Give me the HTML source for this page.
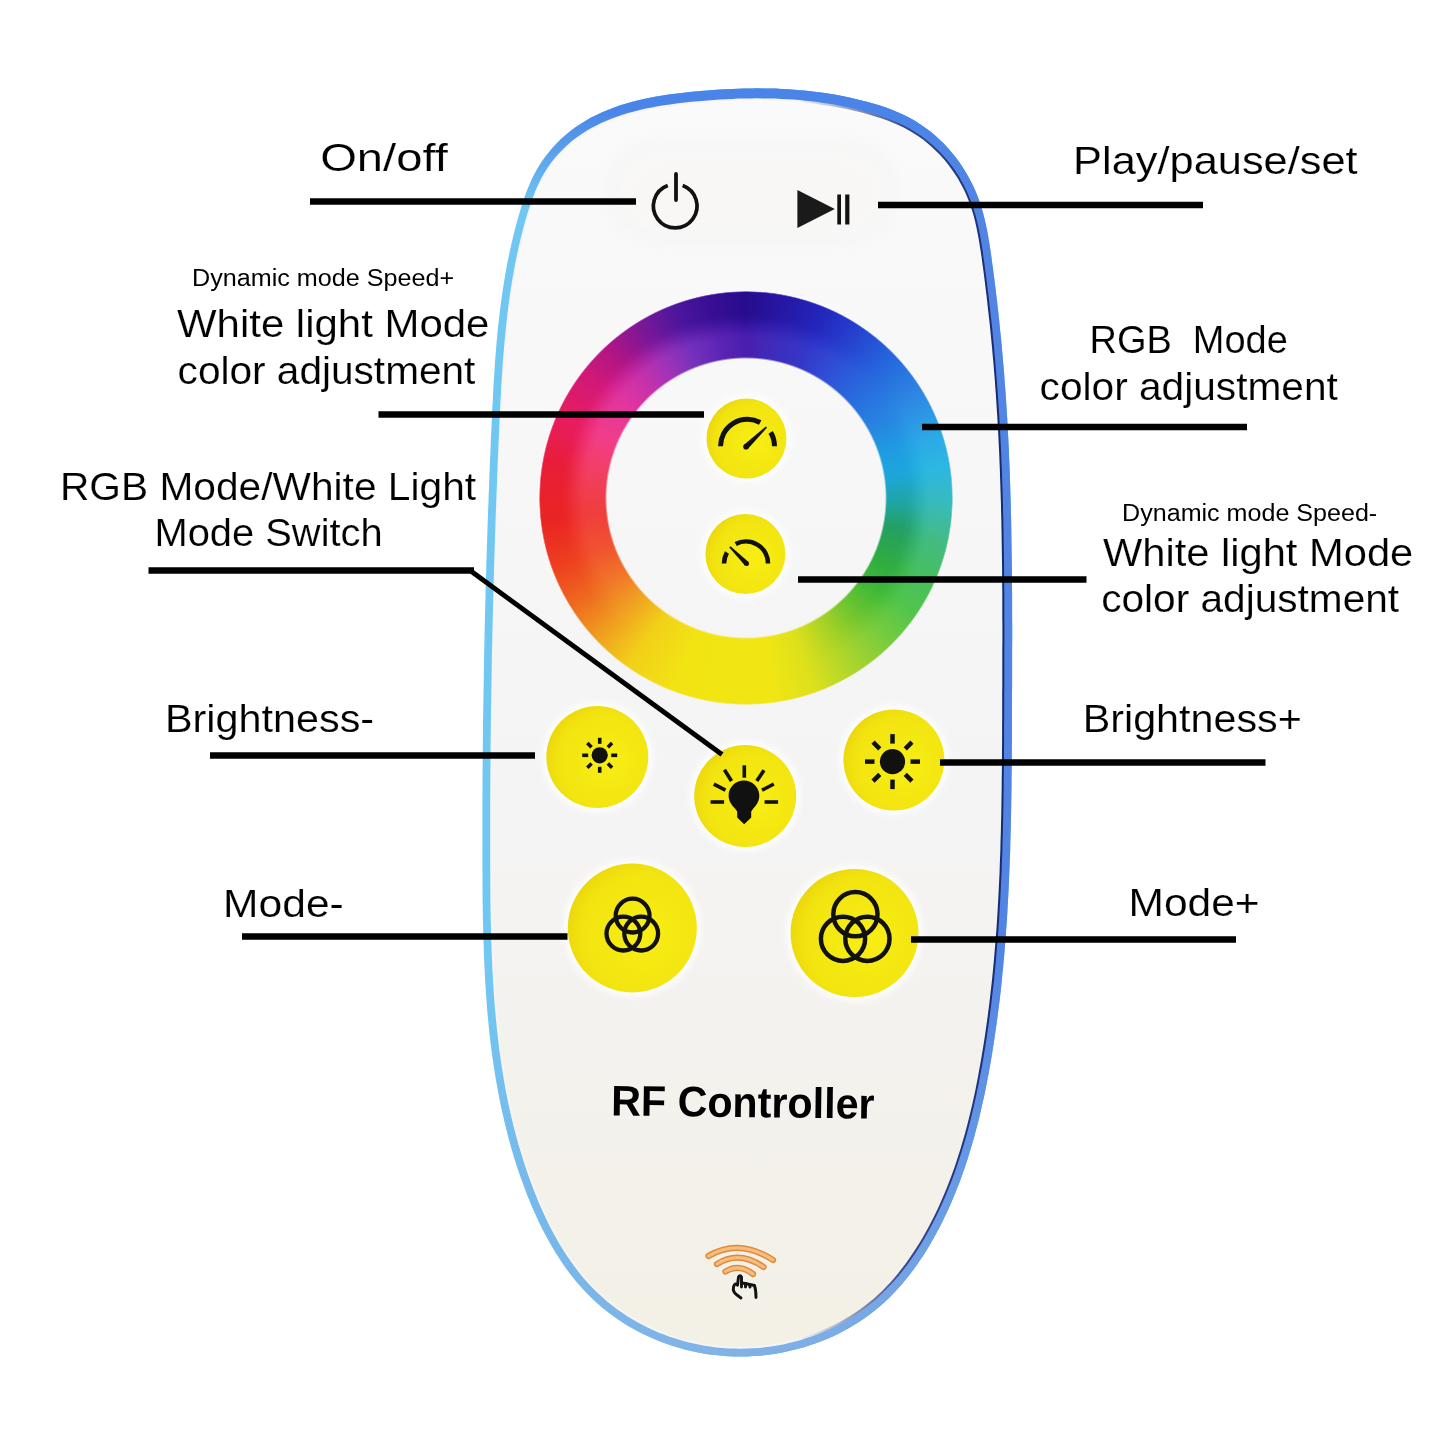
<!DOCTYPE html>
<html><head><meta charset="utf-8">
<style>
html,body{margin:0;padding:0;background:#fff;}
body{width:1445px;height:1445px;position:relative;overflow:hidden;font-family:"Liberation Sans",sans-serif;}
svg{position:absolute;left:0;top:0;}
.ring{position:absolute;left:539px;top:291px;width:414px;height:414px;border-radius:50%;}
#ring{background:conic-gradient(from 0deg,#3612a2 0deg,#2a2cc4 22deg,#2a44d2 32deg,#2666dc 45deg,#2a82e2 58deg,#24a4e4 72deg,#22b0e0 81deg,#28b2b0 92deg,#30b074 102deg,#3ab84c 115deg,#48c040 125deg,#78ca34 137deg,#aad428 148deg,#dce01c 160deg,#f0e614 172deg,#f2e414 200deg,#f2d018 215deg,#f0a020 227deg,#f07222 238deg,#f04a26 250deg,#ee302e 264deg,#ee2c50 280deg,#ee2a7a 294deg,#dc2490 308deg,#c0209c 318deg,#8c22ae 330deg,#6020b0 340deg,#4a16a8 350deg,#3612a2 360deg);
-webkit-mask:radial-gradient(circle at 50% 50%,transparent 139px,#000 141px,#000 205.5px,transparent 207.5px);
mask:radial-gradient(circle at 50% 50%,transparent 139px,#000 141px,#000 205.5px,transparent 207.5px);}
#ringshade{mix-blend-mode:soft-light;background:conic-gradient(from 0deg,rgba(0,0,0,0.35) 0deg,rgba(0,0,0,0) 50deg,rgba(255,255,255,0.3) 100deg,rgba(255,255,255,0) 160deg,rgba(0,0,0,0) 220deg,rgba(0,0,0,0.4) 280deg,rgba(0,0,0,0.35) 360deg);
-webkit-mask:radial-gradient(circle at 50% 50%,transparent 165px,#000 185px,#000 205.5px,transparent 207.5px);
mask:radial-gradient(circle at 50% 50%,transparent 165px,#000 185px,#000 205.5px,transparent 207.5px);}
#ringshade2{mix-blend-mode:soft-light;background:conic-gradient(from 0deg,rgba(255,255,255,0.3) 0deg,rgba(255,255,255,0) 50deg,rgba(0,0,0,0.3) 100deg,rgba(0,0,0,0) 160deg,rgba(0,0,0,0) 220deg,rgba(255,255,255,0.3) 280deg,rgba(255,255,255,0.3) 360deg);
-webkit-mask:radial-gradient(circle at 50% 50%,transparent 139px,#000 141px,#000 160px,transparent 180px);
mask:radial-gradient(circle at 50% 50%,transparent 139px,#000 141px,#000 160px,transparent 180px);}
</style></head><body>
<svg width="1445" height="1445" viewBox="0 0 1445 1445">
<defs>
<linearGradient id="bodyfill" x1="0" y1="0" x2="0" y2="1">
<stop offset="0" stop-color="#fafafa"/><stop offset="0.3" stop-color="#f8f7f8"/><stop offset="0.55" stop-color="#f5f4f5"/><stop offset="0.75" stop-color="#f4f2ee"/><stop offset="1" stop-color="#f3f0e6"/>
</linearGradient>
<linearGradient id="bandR" gradientUnits="userSpaceOnUse" x1="700" y1="0" x2="900" y2="0">
<stop offset="0" stop-color="#5284e4" stop-opacity="0"/><stop offset="1" stop-color="#5284e4" stop-opacity="1"/>
</linearGradient>
<linearGradient id="bandT" gradientUnits="userSpaceOnUse" x1="0" y1="110" x2="0" y2="210">
<stop offset="0" stop-color="#4a84e8" stop-opacity="1"/><stop offset="1" stop-color="#4a84e8" stop-opacity="0"/>
</linearGradient>
<linearGradient id="bandB" gradientUnits="userSpaceOnUse" x1="0" y1="950" x2="0" y2="1350">
<stop offset="0" stop-color="#7aaee6" stop-opacity="0"/><stop offset="0.6" stop-color="#7aaee6" stop-opacity="0.55"/><stop offset="1" stop-color="#84b0e4" stop-opacity="0.85"/>
</linearGradient>
<linearGradient id="navy" x1="0" y1="0" x2="1" y2="0">
<stop offset="0" stop-color="#f6f5f4"/><stop offset="0.6" stop-color="#f6f5f4"/><stop offset="0.8" stop-color="#3a4a90"/><stop offset="1" stop-color="#142a70"/>
</linearGradient>
<radialGradient id="btn" cx="0.55" cy="0.6" r="0.6">
<stop offset="0" stop-color="#f6ee1c"/><stop offset="0.8" stop-color="#f0e010"/><stop offset="1" stop-color="#ecd80e"/>
</radialGradient>
</defs>
<path d="M700.4,91.0 L706.7,90.4 L713.1,90.0 L719.4,89.6 L725.6,89.2 L731.9,88.9 L738.2,88.7 L744.4,88.5 L750.6,88.4 L756.9,88.3 L763.1,88.4 L769.3,88.5 L775.5,88.6 L781.7,88.9 L787.8,89.2 L794.0,89.7 L800.2,90.2 L806.3,90.8 L812.5,91.4 L818.6,92.2 L824.8,93.1 L830.9,94.0 L837.0,95.1 L843.2,96.3 L849.3,97.5 L855.4,98.9 L861.5,100.4 L867.6,102.0 L873.7,103.7 L879.8,105.6 L885.8,107.6 L891.7,109.8 L897.5,112.2 L903.3,114.7 L908.8,117.6 L914.3,120.6 L919.6,123.9 L924.7,127.4 L929.7,131.1 L934.5,135.0 L939.1,139.2 L943.6,143.5 L947.8,148.0 L951.9,152.7 L955.8,157.5 L959.5,162.6 L963.0,167.7 L966.2,173.0 L969.3,178.4 L972.2,183.9 L974.8,189.6 L977.2,195.3 L979.4,201.2 L981.3,207.1 L983.1,213.0 L984.6,219.1 L986.0,225.2 L987.3,231.3 L988.4,237.5 L989.4,243.7 L990.4,250.0 L991.3,256.2 L992.1,262.4 L993.0,268.7 L993.8,274.9 L994.6,281.2 L995.4,287.4 L996.1,293.6 L996.9,299.8 L997.6,306.1 L998.3,312.3 L999.0,318.5 L999.6,324.7 L1000.2,330.9 L1000.9,337.2 L1001.5,343.4 L1002.0,349.6 L1002.6,355.8 L1003.1,362.0 L1003.7,368.2 L1004.2,374.4 L1004.6,380.7 L1005.1,386.9 L1005.6,393.1 L1006.0,399.3 L1006.4,405.5 L1006.8,411.8 L1007.2,418.0 L1007.5,424.2 L1007.8,430.4 L1008.2,436.7 L1008.5,442.9 L1008.8,449.1 L1009.0,455.4 L1009.3,461.6 L1009.6,467.8 L1009.8,474.1 L1010.0,480.3 L1010.2,486.5 L1010.4,492.8 L1010.6,499.0 L1010.8,505.3 L1010.9,511.5 L1011.1,517.7 L1011.2,524.0 L1011.3,530.2 L1011.4,536.5 L1011.5,542.7 L1011.6,549.0 L1011.7,555.2 L1011.8,561.5 L1011.9,567.7 L1011.9,574.0 L1012.0,580.2 L1012.0,586.5 L1012.1,592.7 L1012.1,599.0 L1012.1,605.3 L1012.1,611.5 L1012.1,617.8 L1012.2,624.0 L1012.2,630.3 L1012.2,636.5 L1012.2,642.8 L1012.1,649.0 L1012.1,655.3 L1012.1,661.6 L1012.1,667.8 L1012.1,674.1 L1012.1,680.3 L1012.1,686.6 L1012.0,692.9 L1012.0,699.1 L1012.0,705.4 L1012.0,711.6 L1012.0,717.9 L1011.9,724.2 L1011.9,730.4 L1011.9,736.7 L1011.9,742.9 L1011.8,749.2 L1011.8,755.4 L1011.7,761.7 L1011.7,768.0 L1011.6,774.2 L1011.5,780.5 L1011.5,786.7 L1011.4,793.0 L1011.3,799.2 L1011.2,805.5 L1011.1,811.7 L1011.0,818.0 L1010.8,824.2 L1010.7,830.5 L1010.5,836.7 L1010.3,843.0 L1010.2,849.2 L1010.0,855.5 L1009.7,861.7 L1009.5,868.0 L1009.2,874.2 L1009.0,880.4 L1008.7,886.7 L1008.4,892.9 L1008.1,899.1 L1007.7,905.4 L1007.4,911.6 L1007.0,917.8 L1006.6,924.1 L1006.1,930.3 L1005.7,936.5 L1005.2,942.7 L1004.7,949.0 L1004.2,955.2 L1003.6,961.4 L1003.1,967.6 L1002.4,973.8 L1001.8,980.0 L1001.2,986.2 L1000.5,992.5 L999.8,998.7 L999.0,1004.9 L998.2,1011.1 L997.4,1017.3 L996.6,1023.5 L995.7,1029.6 L994.8,1035.8 L993.9,1042.0 L992.9,1048.2 L991.9,1054.4 L990.9,1060.6 L989.8,1066.7 L988.7,1072.9 L987.5,1079.1 L986.3,1085.2 L985.1,1091.4 L983.8,1097.5 L982.4,1103.6 L981.0,1109.8 L979.6,1115.9 L978.1,1121.9 L976.5,1128.0 L974.9,1134.1 L973.3,1140.1 L971.5,1146.1 L969.7,1152.1 L967.9,1158.1 L965.9,1164.0 L963.9,1169.9 L961.8,1175.8 L959.7,1181.7 L957.4,1187.5 L955.1,1193.3 L952.7,1199.0 L950.3,1204.8 L947.7,1210.5 L945.0,1216.1 L942.3,1221.7 L939.5,1227.3 L936.5,1232.8 L933.5,1238.3 L930.4,1243.7 L927.2,1249.1 L923.9,1254.4 L920.4,1259.6 L916.9,1264.8 L913.2,1269.8 L909.5,1274.8 L905.6,1279.6 L901.6,1284.4 L897.5,1289.0 L893.3,1293.5 L888.9,1297.9 L884.4,1302.2 L879.8,1306.3 L875.0,1310.2 L870.2,1314.1 L865.1,1317.7 L860.0,1321.2 L854.7,1324.6 L849.4,1327.8 L843.9,1330.8 L838.3,1333.7 L832.6,1336.4 L826.9,1338.9 L821.0,1341.3 L815.1,1343.5 L809.1,1345.5 L803.1,1347.4 L797.0,1349.1 L790.8,1350.6 L784.6,1352.0 L778.4,1353.2 L772.1,1354.2 L765.9,1355.0 L759.6,1355.7 L753.3,1356.1 L746.9,1356.4 L740.6,1356.5 L734.3,1356.4 L728.1,1356.2 L721.8,1355.8 L715.5,1355.1 L709.3,1354.4 L703.1,1353.4 L697.0,1352.3 L690.9,1350.9 L684.8,1349.5 L678.8,1347.8 L672.9,1346.0 L667.0,1344.0 L661.2,1341.9 L655.4,1339.6 L649.7,1337.1 L644.1,1334.5 L638.6,1331.7 L633.2,1328.8 L627.8,1325.7 L622.6,1322.4 L617.5,1319.0 L612.5,1315.5 L607.5,1311.8 L602.7,1307.9 L598.1,1304.0 L593.5,1299.8 L589.1,1295.5 L584.8,1291.1 L580.7,1286.6 L576.6,1281.9 L572.7,1277.1 L568.9,1272.2 L565.3,1267.2 L561.7,1262.0 L558.3,1256.8 L554.9,1251.5 L551.7,1246.1 L548.6,1240.6 L545.6,1235.1 L542.7,1229.5 L539.8,1223.8 L537.1,1218.1 L534.5,1212.3 L531.9,1206.4 L529.5,1200.6 L527.1,1194.7 L524.9,1188.7 L522.7,1182.8 L520.5,1176.8 L518.5,1170.9 L516.5,1164.9 L514.6,1158.9 L512.8,1152.9 L511.0,1146.9 L509.3,1140.8 L507.7,1134.8 L506.2,1128.7 L504.7,1122.7 L503.3,1116.6 L501.9,1110.5 L500.6,1104.4 L499.4,1098.3 L498.2,1092.2 L497.1,1086.1 L496.0,1080.0 L495.0,1073.9 L494.0,1067.7 L493.1,1061.6 L492.2,1055.4 L491.4,1049.3 L490.6,1043.1 L489.9,1036.9 L489.2,1030.8 L488.6,1024.6 L488.0,1018.4 L487.4,1012.2 L486.9,1006.0 L486.5,999.8 L486.0,993.6 L485.6,987.3 L485.2,981.1 L484.9,974.9 L484.6,968.7 L484.3,962.4 L484.0,956.2 L483.8,950.0 L483.6,943.7 L483.4,937.5 L483.2,931.2 L483.1,925.0 L482.9,918.7 L482.8,912.5 L482.7,906.2 L482.6,900.0 L482.6,893.7 L482.5,887.5 L482.5,881.2 L482.5,874.9 L482.4,868.7 L482.4,862.4 L482.4,856.2 L482.4,849.9 L482.4,843.7 L482.4,837.4 L482.4,831.1 L482.4,824.9 L482.4,818.6 L482.4,812.4 L482.4,806.1 L482.4,799.9 L482.5,793.6 L482.5,787.4 L482.5,781.1 L482.6,774.9 L482.6,768.6 L482.7,762.4 L482.7,756.1 L482.8,749.9 L482.8,743.6 L482.9,737.4 L483.0,731.1 L483.0,724.9 L483.1,718.6 L483.2,712.4 L483.3,706.2 L483.4,699.9 L483.5,693.7 L483.6,687.4 L483.7,681.2 L483.8,674.9 L483.9,668.7 L484.0,662.4 L484.1,656.2 L484.2,649.9 L484.4,643.7 L484.5,637.4 L484.6,631.2 L484.8,624.9 L484.9,618.7 L485.1,612.4 L485.2,606.2 L485.4,599.9 L485.5,593.7 L485.7,587.5 L485.9,581.2 L486.1,575.0 L486.2,568.7 L486.4,562.5 L486.6,556.2 L486.8,550.0 L487.0,543.7 L487.2,537.5 L487.4,531.2 L487.6,524.9 L487.8,518.7 L488.0,512.4 L488.3,506.2 L488.5,499.9 L488.7,493.7 L489.0,487.4 L489.2,481.2 L489.4,474.9 L489.7,468.7 L489.9,462.4 L490.2,456.1 L490.5,449.9 L490.7,443.6 L491.0,437.4 L491.3,431.1 L491.6,424.8 L491.8,418.6 L492.1,412.3 L492.4,406.0 L492.8,399.8 L493.1,393.5 L493.4,387.3 L493.8,381.0 L494.2,374.8 L494.6,368.5 L495.0,362.3 L495.5,356.0 L496.0,349.8 L496.5,343.6 L497.1,337.3 L497.7,331.1 L498.3,324.9 L499.0,318.7 L499.7,312.5 L500.5,306.3 L501.3,300.1 L502.2,293.9 L503.1,287.7 L504.1,281.6 L505.1,275.4 L506.2,269.3 L507.3,263.2 L508.6,257.0 L509.8,250.9 L511.2,244.8 L512.6,238.7 L514.1,232.7 L515.6,226.6 L517.3,220.6 L519.0,214.5 L520.8,208.5 L522.7,202.6 L524.7,196.6 L526.9,190.8 L529.3,185.0 L531.8,179.3 L534.6,173.7 L537.6,168.3 L540.9,163.0 L544.5,157.8 L548.3,152.9 L552.3,148.1 L556.5,143.5 L561.0,139.1 L565.6,134.9 L570.4,131.0 L575.4,127.3 L580.5,123.9 L585.7,120.7 L591.0,117.6 L596.5,114.9 L602.1,112.3 L607.8,109.9 L613.6,107.7 L619.4,105.6 L625.4,103.7 L631.4,102.0 L637.5,100.5 L643.6,99.0 L649.8,97.7 L656.1,96.6 L662.4,95.5 L668.7,94.5 L675.0,93.7 L681.4,92.9 L687.7,92.2 L694.1,91.5Z" fill="#70c8f2"/>
<path d="M700.4,91.0 L706.7,90.4 L713.1,90.0 L719.4,89.6 L725.6,89.2 L731.9,88.9 L738.2,88.7 L744.4,88.5 L750.6,88.4 L756.9,88.3 L763.1,88.4 L769.3,88.5 L775.5,88.6 L781.7,88.9 L787.8,89.2 L794.0,89.7 L800.2,90.2 L806.3,90.8 L812.5,91.4 L818.6,92.2 L824.8,93.1 L830.9,94.0 L837.0,95.1 L843.2,96.3 L849.3,97.5 L855.4,98.9 L861.5,100.4 L867.6,102.0 L873.7,103.7 L879.8,105.6 L885.8,107.6 L891.7,109.8 L897.5,112.2 L903.3,114.7 L908.8,117.6 L914.3,120.6 L919.6,123.9 L924.7,127.4 L929.7,131.1 L934.5,135.0 L939.1,139.2 L943.6,143.5 L947.8,148.0 L951.9,152.7 L955.8,157.5 L959.5,162.6 L963.0,167.7 L966.2,173.0 L969.3,178.4 L972.2,183.9 L974.8,189.6 L977.2,195.3 L979.4,201.2 L981.3,207.1 L983.1,213.0 L984.6,219.1 L986.0,225.2 L987.3,231.3 L988.4,237.5 L989.4,243.7 L990.4,250.0 L991.3,256.2 L992.1,262.4 L993.0,268.7 L993.8,274.9 L994.6,281.2 L995.4,287.4 L996.1,293.6 L996.9,299.8 L997.6,306.1 L998.3,312.3 L999.0,318.5 L999.6,324.7 L1000.2,330.9 L1000.9,337.2 L1001.5,343.4 L1002.0,349.6 L1002.6,355.8 L1003.1,362.0 L1003.7,368.2 L1004.2,374.4 L1004.6,380.7 L1005.1,386.9 L1005.6,393.1 L1006.0,399.3 L1006.4,405.5 L1006.8,411.8 L1007.2,418.0 L1007.5,424.2 L1007.8,430.4 L1008.2,436.7 L1008.5,442.9 L1008.8,449.1 L1009.0,455.4 L1009.3,461.6 L1009.6,467.8 L1009.8,474.1 L1010.0,480.3 L1010.2,486.5 L1010.4,492.8 L1010.6,499.0 L1010.8,505.3 L1010.9,511.5 L1011.1,517.7 L1011.2,524.0 L1011.3,530.2 L1011.4,536.5 L1011.5,542.7 L1011.6,549.0 L1011.7,555.2 L1011.8,561.5 L1011.9,567.7 L1011.9,574.0 L1012.0,580.2 L1012.0,586.5 L1012.1,592.7 L1012.1,599.0 L1012.1,605.3 L1012.1,611.5 L1012.1,617.8 L1012.2,624.0 L1012.2,630.3 L1012.2,636.5 L1012.2,642.8 L1012.1,649.0 L1012.1,655.3 L1012.1,661.6 L1012.1,667.8 L1012.1,674.1 L1012.1,680.3 L1012.1,686.6 L1012.0,692.9 L1012.0,699.1 L1012.0,705.4 L1012.0,711.6 L1012.0,717.9 L1011.9,724.2 L1011.9,730.4 L1011.9,736.7 L1011.9,742.9 L1011.8,749.2 L1011.8,755.4 L1011.7,761.7 L1011.7,768.0 L1011.6,774.2 L1011.5,780.5 L1011.5,786.7 L1011.4,793.0 L1011.3,799.2 L1011.2,805.5 L1011.1,811.7 L1011.0,818.0 L1010.8,824.2 L1010.7,830.5 L1010.5,836.7 L1010.3,843.0 L1010.2,849.2 L1010.0,855.5 L1009.7,861.7 L1009.5,868.0 L1009.2,874.2 L1009.0,880.4 L1008.7,886.7 L1008.4,892.9 L1008.1,899.1 L1007.7,905.4 L1007.4,911.6 L1007.0,917.8 L1006.6,924.1 L1006.1,930.3 L1005.7,936.5 L1005.2,942.7 L1004.7,949.0 L1004.2,955.2 L1003.6,961.4 L1003.1,967.6 L1002.4,973.8 L1001.8,980.0 L1001.2,986.2 L1000.5,992.5 L999.8,998.7 L999.0,1004.9 L998.2,1011.1 L997.4,1017.3 L996.6,1023.5 L995.7,1029.6 L994.8,1035.8 L993.9,1042.0 L992.9,1048.2 L991.9,1054.4 L990.9,1060.6 L989.8,1066.7 L988.7,1072.9 L987.5,1079.1 L986.3,1085.2 L985.1,1091.4 L983.8,1097.5 L982.4,1103.6 L981.0,1109.8 L979.6,1115.9 L978.1,1121.9 L976.5,1128.0 L974.9,1134.1 L973.3,1140.1 L971.5,1146.1 L969.7,1152.1 L967.9,1158.1 L965.9,1164.0 L963.9,1169.9 L961.8,1175.8 L959.7,1181.7 L957.4,1187.5 L955.1,1193.3 L952.7,1199.0 L950.3,1204.8 L947.7,1210.5 L945.0,1216.1 L942.3,1221.7 L939.5,1227.3 L936.5,1232.8 L933.5,1238.3 L930.4,1243.7 L927.2,1249.1 L923.9,1254.4 L920.4,1259.6 L916.9,1264.8 L913.2,1269.8 L909.5,1274.8 L905.6,1279.6 L901.6,1284.4 L897.5,1289.0 L893.3,1293.5 L888.9,1297.9 L884.4,1302.2 L879.8,1306.3 L875.0,1310.2 L870.2,1314.1 L865.1,1317.7 L860.0,1321.2 L854.7,1324.6 L849.4,1327.8 L843.9,1330.8 L838.3,1333.7 L832.6,1336.4 L826.9,1338.9 L821.0,1341.3 L815.1,1343.5 L809.1,1345.5 L803.1,1347.4 L797.0,1349.1 L790.8,1350.6 L784.6,1352.0 L778.4,1353.2 L772.1,1354.2 L765.9,1355.0 L759.6,1355.7 L753.3,1356.1 L746.9,1356.4 L740.6,1356.5 L734.3,1356.4 L728.1,1356.2 L721.8,1355.8 L715.5,1355.1 L709.3,1354.4 L703.1,1353.4 L697.0,1352.3 L690.9,1350.9 L684.8,1349.5 L678.8,1347.8 L672.9,1346.0 L667.0,1344.0 L661.2,1341.9 L655.4,1339.6 L649.7,1337.1 L644.1,1334.5 L638.6,1331.7 L633.2,1328.8 L627.8,1325.7 L622.6,1322.4 L617.5,1319.0 L612.5,1315.5 L607.5,1311.8 L602.7,1307.9 L598.1,1304.0 L593.5,1299.8 L589.1,1295.5 L584.8,1291.1 L580.7,1286.6 L576.6,1281.9 L572.7,1277.1 L568.9,1272.2 L565.3,1267.2 L561.7,1262.0 L558.3,1256.8 L554.9,1251.5 L551.7,1246.1 L548.6,1240.6 L545.6,1235.1 L542.7,1229.5 L539.8,1223.8 L537.1,1218.1 L534.5,1212.3 L531.9,1206.4 L529.5,1200.6 L527.1,1194.7 L524.9,1188.7 L522.7,1182.8 L520.5,1176.8 L518.5,1170.9 L516.5,1164.9 L514.6,1158.9 L512.8,1152.9 L511.0,1146.9 L509.3,1140.8 L507.7,1134.8 L506.2,1128.7 L504.7,1122.7 L503.3,1116.6 L501.9,1110.5 L500.6,1104.4 L499.4,1098.3 L498.2,1092.2 L497.1,1086.1 L496.0,1080.0 L495.0,1073.9 L494.0,1067.7 L493.1,1061.6 L492.2,1055.4 L491.4,1049.3 L490.6,1043.1 L489.9,1036.9 L489.2,1030.8 L488.6,1024.6 L488.0,1018.4 L487.4,1012.2 L486.9,1006.0 L486.5,999.8 L486.0,993.6 L485.6,987.3 L485.2,981.1 L484.9,974.9 L484.6,968.7 L484.3,962.4 L484.0,956.2 L483.8,950.0 L483.6,943.7 L483.4,937.5 L483.2,931.2 L483.1,925.0 L482.9,918.7 L482.8,912.5 L482.7,906.2 L482.6,900.0 L482.6,893.7 L482.5,887.5 L482.5,881.2 L482.5,874.9 L482.4,868.7 L482.4,862.4 L482.4,856.2 L482.4,849.9 L482.4,843.7 L482.4,837.4 L482.4,831.1 L482.4,824.9 L482.4,818.6 L482.4,812.4 L482.4,806.1 L482.4,799.9 L482.5,793.6 L482.5,787.4 L482.5,781.1 L482.6,774.9 L482.6,768.6 L482.7,762.4 L482.7,756.1 L482.8,749.9 L482.8,743.6 L482.9,737.4 L483.0,731.1 L483.0,724.9 L483.1,718.6 L483.2,712.4 L483.3,706.2 L483.4,699.9 L483.5,693.7 L483.6,687.4 L483.7,681.2 L483.8,674.9 L483.9,668.7 L484.0,662.4 L484.1,656.2 L484.2,649.9 L484.4,643.7 L484.5,637.4 L484.6,631.2 L484.8,624.9 L484.9,618.7 L485.1,612.4 L485.2,606.2 L485.4,599.9 L485.5,593.7 L485.7,587.5 L485.9,581.2 L486.1,575.0 L486.2,568.7 L486.4,562.5 L486.6,556.2 L486.8,550.0 L487.0,543.7 L487.2,537.5 L487.4,531.2 L487.6,524.9 L487.8,518.7 L488.0,512.4 L488.3,506.2 L488.5,499.9 L488.7,493.7 L489.0,487.4 L489.2,481.2 L489.4,474.9 L489.7,468.7 L489.9,462.4 L490.2,456.1 L490.5,449.9 L490.7,443.6 L491.0,437.4 L491.3,431.1 L491.6,424.8 L491.8,418.6 L492.1,412.3 L492.4,406.0 L492.8,399.8 L493.1,393.5 L493.4,387.3 L493.8,381.0 L494.2,374.8 L494.6,368.5 L495.0,362.3 L495.5,356.0 L496.0,349.8 L496.5,343.6 L497.1,337.3 L497.7,331.1 L498.3,324.9 L499.0,318.7 L499.7,312.5 L500.5,306.3 L501.3,300.1 L502.2,293.9 L503.1,287.7 L504.1,281.6 L505.1,275.4 L506.2,269.3 L507.3,263.2 L508.6,257.0 L509.8,250.9 L511.2,244.8 L512.6,238.7 L514.1,232.7 L515.6,226.6 L517.3,220.6 L519.0,214.5 L520.8,208.5 L522.7,202.6 L524.7,196.6 L526.9,190.8 L529.3,185.0 L531.8,179.3 L534.6,173.7 L537.6,168.3 L540.9,163.0 L544.5,157.8 L548.3,152.9 L552.3,148.1 L556.5,143.5 L561.0,139.1 L565.6,134.9 L570.4,131.0 L575.4,127.3 L580.5,123.9 L585.7,120.7 L591.0,117.6 L596.5,114.9 L602.1,112.3 L607.8,109.9 L613.6,107.7 L619.4,105.6 L625.4,103.7 L631.4,102.0 L637.5,100.5 L643.6,99.0 L649.8,97.7 L656.1,96.6 L662.4,95.5 L668.7,94.5 L675.0,93.7 L681.4,92.9 L687.7,92.2 L694.1,91.5Z" fill="url(#bandR)"/>
<path d="M700.4,91.0 L706.7,90.4 L713.1,90.0 L719.4,89.6 L725.6,89.2 L731.9,88.9 L738.2,88.7 L744.4,88.5 L750.6,88.4 L756.9,88.3 L763.1,88.4 L769.3,88.5 L775.5,88.6 L781.7,88.9 L787.8,89.2 L794.0,89.7 L800.2,90.2 L806.3,90.8 L812.5,91.4 L818.6,92.2 L824.8,93.1 L830.9,94.0 L837.0,95.1 L843.2,96.3 L849.3,97.5 L855.4,98.9 L861.5,100.4 L867.6,102.0 L873.7,103.7 L879.8,105.6 L885.8,107.6 L891.7,109.8 L897.5,112.2 L903.3,114.7 L908.8,117.6 L914.3,120.6 L919.6,123.9 L924.7,127.4 L929.7,131.1 L934.5,135.0 L939.1,139.2 L943.6,143.5 L947.8,148.0 L951.9,152.7 L955.8,157.5 L959.5,162.6 L963.0,167.7 L966.2,173.0 L969.3,178.4 L972.2,183.9 L974.8,189.6 L977.2,195.3 L979.4,201.2 L981.3,207.1 L983.1,213.0 L984.6,219.1 L986.0,225.2 L987.3,231.3 L988.4,237.5 L989.4,243.7 L990.4,250.0 L991.3,256.2 L992.1,262.4 L993.0,268.7 L993.8,274.9 L994.6,281.2 L995.4,287.4 L996.1,293.6 L996.9,299.8 L997.6,306.1 L998.3,312.3 L999.0,318.5 L999.6,324.7 L1000.2,330.9 L1000.9,337.2 L1001.5,343.4 L1002.0,349.6 L1002.6,355.8 L1003.1,362.0 L1003.7,368.2 L1004.2,374.4 L1004.6,380.7 L1005.1,386.9 L1005.6,393.1 L1006.0,399.3 L1006.4,405.5 L1006.8,411.8 L1007.2,418.0 L1007.5,424.2 L1007.8,430.4 L1008.2,436.7 L1008.5,442.9 L1008.8,449.1 L1009.0,455.4 L1009.3,461.6 L1009.6,467.8 L1009.8,474.1 L1010.0,480.3 L1010.2,486.5 L1010.4,492.8 L1010.6,499.0 L1010.8,505.3 L1010.9,511.5 L1011.1,517.7 L1011.2,524.0 L1011.3,530.2 L1011.4,536.5 L1011.5,542.7 L1011.6,549.0 L1011.7,555.2 L1011.8,561.5 L1011.9,567.7 L1011.9,574.0 L1012.0,580.2 L1012.0,586.5 L1012.1,592.7 L1012.1,599.0 L1012.1,605.3 L1012.1,611.5 L1012.1,617.8 L1012.2,624.0 L1012.2,630.3 L1012.2,636.5 L1012.2,642.8 L1012.1,649.0 L1012.1,655.3 L1012.1,661.6 L1012.1,667.8 L1012.1,674.1 L1012.1,680.3 L1012.1,686.6 L1012.0,692.9 L1012.0,699.1 L1012.0,705.4 L1012.0,711.6 L1012.0,717.9 L1011.9,724.2 L1011.9,730.4 L1011.9,736.7 L1011.9,742.9 L1011.8,749.2 L1011.8,755.4 L1011.7,761.7 L1011.7,768.0 L1011.6,774.2 L1011.5,780.5 L1011.5,786.7 L1011.4,793.0 L1011.3,799.2 L1011.2,805.5 L1011.1,811.7 L1011.0,818.0 L1010.8,824.2 L1010.7,830.5 L1010.5,836.7 L1010.3,843.0 L1010.2,849.2 L1010.0,855.5 L1009.7,861.7 L1009.5,868.0 L1009.2,874.2 L1009.0,880.4 L1008.7,886.7 L1008.4,892.9 L1008.1,899.1 L1007.7,905.4 L1007.4,911.6 L1007.0,917.8 L1006.6,924.1 L1006.1,930.3 L1005.7,936.5 L1005.2,942.7 L1004.7,949.0 L1004.2,955.2 L1003.6,961.4 L1003.1,967.6 L1002.4,973.8 L1001.8,980.0 L1001.2,986.2 L1000.5,992.5 L999.8,998.7 L999.0,1004.9 L998.2,1011.1 L997.4,1017.3 L996.6,1023.5 L995.7,1029.6 L994.8,1035.8 L993.9,1042.0 L992.9,1048.2 L991.9,1054.4 L990.9,1060.6 L989.8,1066.7 L988.7,1072.9 L987.5,1079.1 L986.3,1085.2 L985.1,1091.4 L983.8,1097.5 L982.4,1103.6 L981.0,1109.8 L979.6,1115.9 L978.1,1121.9 L976.5,1128.0 L974.9,1134.1 L973.3,1140.1 L971.5,1146.1 L969.7,1152.1 L967.9,1158.1 L965.9,1164.0 L963.9,1169.9 L961.8,1175.8 L959.7,1181.7 L957.4,1187.5 L955.1,1193.3 L952.7,1199.0 L950.3,1204.8 L947.7,1210.5 L945.0,1216.1 L942.3,1221.7 L939.5,1227.3 L936.5,1232.8 L933.5,1238.3 L930.4,1243.7 L927.2,1249.1 L923.9,1254.4 L920.4,1259.6 L916.9,1264.8 L913.2,1269.8 L909.5,1274.8 L905.6,1279.6 L901.6,1284.4 L897.5,1289.0 L893.3,1293.5 L888.9,1297.9 L884.4,1302.2 L879.8,1306.3 L875.0,1310.2 L870.2,1314.1 L865.1,1317.7 L860.0,1321.2 L854.7,1324.6 L849.4,1327.8 L843.9,1330.8 L838.3,1333.7 L832.6,1336.4 L826.9,1338.9 L821.0,1341.3 L815.1,1343.5 L809.1,1345.5 L803.1,1347.4 L797.0,1349.1 L790.8,1350.6 L784.6,1352.0 L778.4,1353.2 L772.1,1354.2 L765.9,1355.0 L759.6,1355.7 L753.3,1356.1 L746.9,1356.4 L740.6,1356.5 L734.3,1356.4 L728.1,1356.2 L721.8,1355.8 L715.5,1355.1 L709.3,1354.4 L703.1,1353.4 L697.0,1352.3 L690.9,1350.9 L684.8,1349.5 L678.8,1347.8 L672.9,1346.0 L667.0,1344.0 L661.2,1341.9 L655.4,1339.6 L649.7,1337.1 L644.1,1334.5 L638.6,1331.7 L633.2,1328.8 L627.8,1325.7 L622.6,1322.4 L617.5,1319.0 L612.5,1315.5 L607.5,1311.8 L602.7,1307.9 L598.1,1304.0 L593.5,1299.8 L589.1,1295.5 L584.8,1291.1 L580.7,1286.6 L576.6,1281.9 L572.7,1277.1 L568.9,1272.2 L565.3,1267.2 L561.7,1262.0 L558.3,1256.8 L554.9,1251.5 L551.7,1246.1 L548.6,1240.6 L545.6,1235.1 L542.7,1229.5 L539.8,1223.8 L537.1,1218.1 L534.5,1212.3 L531.9,1206.4 L529.5,1200.6 L527.1,1194.7 L524.9,1188.7 L522.7,1182.8 L520.5,1176.8 L518.5,1170.9 L516.5,1164.9 L514.6,1158.9 L512.8,1152.9 L511.0,1146.9 L509.3,1140.8 L507.7,1134.8 L506.2,1128.7 L504.7,1122.7 L503.3,1116.6 L501.9,1110.5 L500.6,1104.4 L499.4,1098.3 L498.2,1092.2 L497.1,1086.1 L496.0,1080.0 L495.0,1073.9 L494.0,1067.7 L493.1,1061.6 L492.2,1055.4 L491.4,1049.3 L490.6,1043.1 L489.9,1036.9 L489.2,1030.8 L488.6,1024.6 L488.0,1018.4 L487.4,1012.2 L486.9,1006.0 L486.5,999.8 L486.0,993.6 L485.6,987.3 L485.2,981.1 L484.9,974.9 L484.6,968.7 L484.3,962.4 L484.0,956.2 L483.8,950.0 L483.6,943.7 L483.4,937.5 L483.2,931.2 L483.1,925.0 L482.9,918.7 L482.8,912.5 L482.7,906.2 L482.6,900.0 L482.6,893.7 L482.5,887.5 L482.5,881.2 L482.5,874.9 L482.4,868.7 L482.4,862.4 L482.4,856.2 L482.4,849.9 L482.4,843.7 L482.4,837.4 L482.4,831.1 L482.4,824.9 L482.4,818.6 L482.4,812.4 L482.4,806.1 L482.4,799.9 L482.5,793.6 L482.5,787.4 L482.5,781.1 L482.6,774.9 L482.6,768.6 L482.7,762.4 L482.7,756.1 L482.8,749.9 L482.8,743.6 L482.9,737.4 L483.0,731.1 L483.0,724.9 L483.1,718.6 L483.2,712.4 L483.3,706.2 L483.4,699.9 L483.5,693.7 L483.6,687.4 L483.7,681.2 L483.8,674.9 L483.9,668.7 L484.0,662.4 L484.1,656.2 L484.2,649.9 L484.4,643.7 L484.5,637.4 L484.6,631.2 L484.8,624.9 L484.9,618.7 L485.1,612.4 L485.2,606.2 L485.4,599.9 L485.5,593.7 L485.7,587.5 L485.9,581.2 L486.1,575.0 L486.2,568.7 L486.4,562.5 L486.6,556.2 L486.8,550.0 L487.0,543.7 L487.2,537.5 L487.4,531.2 L487.6,524.9 L487.8,518.7 L488.0,512.4 L488.3,506.2 L488.5,499.9 L488.7,493.7 L489.0,487.4 L489.2,481.2 L489.4,474.9 L489.7,468.7 L489.9,462.4 L490.2,456.1 L490.5,449.9 L490.7,443.6 L491.0,437.4 L491.3,431.1 L491.6,424.8 L491.8,418.6 L492.1,412.3 L492.4,406.0 L492.8,399.8 L493.1,393.5 L493.4,387.3 L493.8,381.0 L494.2,374.8 L494.6,368.5 L495.0,362.3 L495.5,356.0 L496.0,349.8 L496.5,343.6 L497.1,337.3 L497.7,331.1 L498.3,324.9 L499.0,318.7 L499.7,312.5 L500.5,306.3 L501.3,300.1 L502.2,293.9 L503.1,287.7 L504.1,281.6 L505.1,275.4 L506.2,269.3 L507.3,263.2 L508.6,257.0 L509.8,250.9 L511.2,244.8 L512.6,238.7 L514.1,232.7 L515.6,226.6 L517.3,220.6 L519.0,214.5 L520.8,208.5 L522.7,202.6 L524.7,196.6 L526.9,190.8 L529.3,185.0 L531.8,179.3 L534.6,173.7 L537.6,168.3 L540.9,163.0 L544.5,157.8 L548.3,152.9 L552.3,148.1 L556.5,143.5 L561.0,139.1 L565.6,134.9 L570.4,131.0 L575.4,127.3 L580.5,123.9 L585.7,120.7 L591.0,117.6 L596.5,114.9 L602.1,112.3 L607.8,109.9 L613.6,107.7 L619.4,105.6 L625.4,103.7 L631.4,102.0 L637.5,100.5 L643.6,99.0 L649.8,97.7 L656.1,96.6 L662.4,95.5 L668.7,94.5 L675.0,93.7 L681.4,92.9 L687.7,92.2 L694.1,91.5Z" fill="url(#bandT)"/>
<path d="M700.4,91.0 L706.7,90.4 L713.1,90.0 L719.4,89.6 L725.6,89.2 L731.9,88.9 L738.2,88.7 L744.4,88.5 L750.6,88.4 L756.9,88.3 L763.1,88.4 L769.3,88.5 L775.5,88.6 L781.7,88.9 L787.8,89.2 L794.0,89.7 L800.2,90.2 L806.3,90.8 L812.5,91.4 L818.6,92.2 L824.8,93.1 L830.9,94.0 L837.0,95.1 L843.2,96.3 L849.3,97.5 L855.4,98.9 L861.5,100.4 L867.6,102.0 L873.7,103.7 L879.8,105.6 L885.8,107.6 L891.7,109.8 L897.5,112.2 L903.3,114.7 L908.8,117.6 L914.3,120.6 L919.6,123.9 L924.7,127.4 L929.7,131.1 L934.5,135.0 L939.1,139.2 L943.6,143.5 L947.8,148.0 L951.9,152.7 L955.8,157.5 L959.5,162.6 L963.0,167.7 L966.2,173.0 L969.3,178.4 L972.2,183.9 L974.8,189.6 L977.2,195.3 L979.4,201.2 L981.3,207.1 L983.1,213.0 L984.6,219.1 L986.0,225.2 L987.3,231.3 L988.4,237.5 L989.4,243.7 L990.4,250.0 L991.3,256.2 L992.1,262.4 L993.0,268.7 L993.8,274.9 L994.6,281.2 L995.4,287.4 L996.1,293.6 L996.9,299.8 L997.6,306.1 L998.3,312.3 L999.0,318.5 L999.6,324.7 L1000.2,330.9 L1000.9,337.2 L1001.5,343.4 L1002.0,349.6 L1002.6,355.8 L1003.1,362.0 L1003.7,368.2 L1004.2,374.4 L1004.6,380.7 L1005.1,386.9 L1005.6,393.1 L1006.0,399.3 L1006.4,405.5 L1006.8,411.8 L1007.2,418.0 L1007.5,424.2 L1007.8,430.4 L1008.2,436.7 L1008.5,442.9 L1008.8,449.1 L1009.0,455.4 L1009.3,461.6 L1009.6,467.8 L1009.8,474.1 L1010.0,480.3 L1010.2,486.5 L1010.4,492.8 L1010.6,499.0 L1010.8,505.3 L1010.9,511.5 L1011.1,517.7 L1011.2,524.0 L1011.3,530.2 L1011.4,536.5 L1011.5,542.7 L1011.6,549.0 L1011.7,555.2 L1011.8,561.5 L1011.9,567.7 L1011.9,574.0 L1012.0,580.2 L1012.0,586.5 L1012.1,592.7 L1012.1,599.0 L1012.1,605.3 L1012.1,611.5 L1012.1,617.8 L1012.2,624.0 L1012.2,630.3 L1012.2,636.5 L1012.2,642.8 L1012.1,649.0 L1012.1,655.3 L1012.1,661.6 L1012.1,667.8 L1012.1,674.1 L1012.1,680.3 L1012.1,686.6 L1012.0,692.9 L1012.0,699.1 L1012.0,705.4 L1012.0,711.6 L1012.0,717.9 L1011.9,724.2 L1011.9,730.4 L1011.9,736.7 L1011.9,742.9 L1011.8,749.2 L1011.8,755.4 L1011.7,761.7 L1011.7,768.0 L1011.6,774.2 L1011.5,780.5 L1011.5,786.7 L1011.4,793.0 L1011.3,799.2 L1011.2,805.5 L1011.1,811.7 L1011.0,818.0 L1010.8,824.2 L1010.7,830.5 L1010.5,836.7 L1010.3,843.0 L1010.2,849.2 L1010.0,855.5 L1009.7,861.7 L1009.5,868.0 L1009.2,874.2 L1009.0,880.4 L1008.7,886.7 L1008.4,892.9 L1008.1,899.1 L1007.7,905.4 L1007.4,911.6 L1007.0,917.8 L1006.6,924.1 L1006.1,930.3 L1005.7,936.5 L1005.2,942.7 L1004.7,949.0 L1004.2,955.2 L1003.6,961.4 L1003.1,967.6 L1002.4,973.8 L1001.8,980.0 L1001.2,986.2 L1000.5,992.5 L999.8,998.7 L999.0,1004.9 L998.2,1011.1 L997.4,1017.3 L996.6,1023.5 L995.7,1029.6 L994.8,1035.8 L993.9,1042.0 L992.9,1048.2 L991.9,1054.4 L990.9,1060.6 L989.8,1066.7 L988.7,1072.9 L987.5,1079.1 L986.3,1085.2 L985.1,1091.4 L983.8,1097.5 L982.4,1103.6 L981.0,1109.8 L979.6,1115.9 L978.1,1121.9 L976.5,1128.0 L974.9,1134.1 L973.3,1140.1 L971.5,1146.1 L969.7,1152.1 L967.9,1158.1 L965.9,1164.0 L963.9,1169.9 L961.8,1175.8 L959.7,1181.7 L957.4,1187.5 L955.1,1193.3 L952.7,1199.0 L950.3,1204.8 L947.7,1210.5 L945.0,1216.1 L942.3,1221.7 L939.5,1227.3 L936.5,1232.8 L933.5,1238.3 L930.4,1243.7 L927.2,1249.1 L923.9,1254.4 L920.4,1259.6 L916.9,1264.8 L913.2,1269.8 L909.5,1274.8 L905.6,1279.6 L901.6,1284.4 L897.5,1289.0 L893.3,1293.5 L888.9,1297.9 L884.4,1302.2 L879.8,1306.3 L875.0,1310.2 L870.2,1314.1 L865.1,1317.7 L860.0,1321.2 L854.7,1324.6 L849.4,1327.8 L843.9,1330.8 L838.3,1333.7 L832.6,1336.4 L826.9,1338.9 L821.0,1341.3 L815.1,1343.5 L809.1,1345.5 L803.1,1347.4 L797.0,1349.1 L790.8,1350.6 L784.6,1352.0 L778.4,1353.2 L772.1,1354.2 L765.9,1355.0 L759.6,1355.7 L753.3,1356.1 L746.9,1356.4 L740.6,1356.5 L734.3,1356.4 L728.1,1356.2 L721.8,1355.8 L715.5,1355.1 L709.3,1354.4 L703.1,1353.4 L697.0,1352.3 L690.9,1350.9 L684.8,1349.5 L678.8,1347.8 L672.9,1346.0 L667.0,1344.0 L661.2,1341.9 L655.4,1339.6 L649.7,1337.1 L644.1,1334.5 L638.6,1331.7 L633.2,1328.8 L627.8,1325.7 L622.6,1322.4 L617.5,1319.0 L612.5,1315.5 L607.5,1311.8 L602.7,1307.9 L598.1,1304.0 L593.5,1299.8 L589.1,1295.5 L584.8,1291.1 L580.7,1286.6 L576.6,1281.9 L572.7,1277.1 L568.9,1272.2 L565.3,1267.2 L561.7,1262.0 L558.3,1256.8 L554.9,1251.5 L551.7,1246.1 L548.6,1240.6 L545.6,1235.1 L542.7,1229.5 L539.8,1223.8 L537.1,1218.1 L534.5,1212.3 L531.9,1206.4 L529.5,1200.6 L527.1,1194.7 L524.9,1188.7 L522.7,1182.8 L520.5,1176.8 L518.5,1170.9 L516.5,1164.9 L514.6,1158.9 L512.8,1152.9 L511.0,1146.9 L509.3,1140.8 L507.7,1134.8 L506.2,1128.7 L504.7,1122.7 L503.3,1116.6 L501.9,1110.5 L500.6,1104.4 L499.4,1098.3 L498.2,1092.2 L497.1,1086.1 L496.0,1080.0 L495.0,1073.9 L494.0,1067.7 L493.1,1061.6 L492.2,1055.4 L491.4,1049.3 L490.6,1043.1 L489.9,1036.9 L489.2,1030.8 L488.6,1024.6 L488.0,1018.4 L487.4,1012.2 L486.9,1006.0 L486.5,999.8 L486.0,993.6 L485.6,987.3 L485.2,981.1 L484.9,974.9 L484.6,968.7 L484.3,962.4 L484.0,956.2 L483.8,950.0 L483.6,943.7 L483.4,937.5 L483.2,931.2 L483.1,925.0 L482.9,918.7 L482.8,912.5 L482.7,906.2 L482.6,900.0 L482.6,893.7 L482.5,887.5 L482.5,881.2 L482.5,874.9 L482.4,868.7 L482.4,862.4 L482.4,856.2 L482.4,849.9 L482.4,843.7 L482.4,837.4 L482.4,831.1 L482.4,824.9 L482.4,818.6 L482.4,812.4 L482.4,806.1 L482.4,799.9 L482.5,793.6 L482.5,787.4 L482.5,781.1 L482.6,774.9 L482.6,768.6 L482.7,762.4 L482.7,756.1 L482.8,749.9 L482.8,743.6 L482.9,737.4 L483.0,731.1 L483.0,724.9 L483.1,718.6 L483.2,712.4 L483.3,706.2 L483.4,699.9 L483.5,693.7 L483.6,687.4 L483.7,681.2 L483.8,674.9 L483.9,668.7 L484.0,662.4 L484.1,656.2 L484.2,649.9 L484.4,643.7 L484.5,637.4 L484.6,631.2 L484.8,624.9 L484.9,618.7 L485.1,612.4 L485.2,606.2 L485.4,599.9 L485.5,593.7 L485.7,587.5 L485.9,581.2 L486.1,575.0 L486.2,568.7 L486.4,562.5 L486.6,556.2 L486.8,550.0 L487.0,543.7 L487.2,537.5 L487.4,531.2 L487.6,524.9 L487.8,518.7 L488.0,512.4 L488.3,506.2 L488.5,499.9 L488.7,493.7 L489.0,487.4 L489.2,481.2 L489.4,474.9 L489.7,468.7 L489.9,462.4 L490.2,456.1 L490.5,449.9 L490.7,443.6 L491.0,437.4 L491.3,431.1 L491.6,424.8 L491.8,418.6 L492.1,412.3 L492.4,406.0 L492.8,399.8 L493.1,393.5 L493.4,387.3 L493.8,381.0 L494.2,374.8 L494.6,368.5 L495.0,362.3 L495.5,356.0 L496.0,349.8 L496.5,343.6 L497.1,337.3 L497.7,331.1 L498.3,324.9 L499.0,318.7 L499.7,312.5 L500.5,306.3 L501.3,300.1 L502.2,293.9 L503.1,287.7 L504.1,281.6 L505.1,275.4 L506.2,269.3 L507.3,263.2 L508.6,257.0 L509.8,250.9 L511.2,244.8 L512.6,238.7 L514.1,232.7 L515.6,226.6 L517.3,220.6 L519.0,214.5 L520.8,208.5 L522.7,202.6 L524.7,196.6 L526.9,190.8 L529.3,185.0 L531.8,179.3 L534.6,173.7 L537.6,168.3 L540.9,163.0 L544.5,157.8 L548.3,152.9 L552.3,148.1 L556.5,143.5 L561.0,139.1 L565.6,134.9 L570.4,131.0 L575.4,127.3 L580.5,123.9 L585.7,120.7 L591.0,117.6 L596.5,114.9 L602.1,112.3 L607.8,109.9 L613.6,107.7 L619.4,105.6 L625.4,103.7 L631.4,102.0 L637.5,100.5 L643.6,99.0 L649.8,97.7 L656.1,96.6 L662.4,95.5 L668.7,94.5 L675.0,93.7 L681.4,92.9 L687.7,92.2 L694.1,91.5Z" fill="url(#bandB)"/>
<path d="M701.3,100.9 L707.5,100.4 L713.8,99.9 L720.0,99.5 L726.2,99.2 L732.3,98.9 L738.5,98.6 L744.6,98.5 L750.8,98.4 L756.9,98.3 L763.0,98.4 L769.1,98.5 L775.1,98.6 L781.2,98.9 L787.2,99.2 L793.3,99.6 L799.3,100.1 L805.3,100.7 L811.3,101.3 L817.3,102.1 L823.3,102.9 L829.3,103.8 L835.3,104.8 L841.2,106.0 L847.2,107.2 L853.2,108.5 L859.1,109.9 L865.1,111.4 L871.0,113.0 L876.8,114.8 L882.6,116.7 L888.2,118.7 L893.8,120.9 L899.2,123.3 L904.5,125.8 L909.6,128.5 L914.6,131.5 L919.5,134.7 L924.2,138.1 L928.8,141.7 L933.2,145.5 L937.5,149.5 L941.6,153.7 L945.5,158.1 L949.2,162.6 L952.8,167.3 L956.1,172.1 L959.3,177.1 L962.2,182.2 L965.0,187.5 L967.5,192.8 L969.8,198.2 L971.9,203.8 L973.8,209.4 L975.5,215.1 L977.0,220.9 L978.4,226.8 L979.6,232.8 L980.7,238.9 L981.7,245.0 L982.7,251.1 L983.5,257.3 L984.4,263.5 L985.2,269.7 L986.1,275.9 L986.9,282.1 L987.6,288.3 L988.4,294.5 L989.1,300.7 L989.8,306.9 L990.5,313.1 L991.2,319.3 L991.9,325.5 L992.5,331.7 L993.1,337.9 L993.7,344.1 L994.3,350.3 L994.8,356.5 L995.4,362.7 L995.9,368.9 L996.4,375.1 L996.9,381.2 L997.3,387.4 L997.8,393.6 L998.2,399.8 L998.6,406.0 L999.0,412.2 L999.4,418.4 L999.7,424.6 L1000.1,430.8 L1000.4,437.1 L1000.7,443.3 L1001.0,449.5 L1001.3,455.7 L1001.5,461.9 L1001.8,468.1 L1002.0,474.3 L1002.2,480.6 L1002.4,486.8 L1002.6,493.0 L1002.8,499.2 L1003.0,505.5 L1003.1,511.7 L1003.3,517.9 L1003.4,524.2 L1003.5,530.4 L1003.6,536.6 L1003.7,542.9 L1003.8,549.1 L1003.9,555.3 L1004.0,561.6 L1004.1,567.8 L1004.1,574.1 L1004.2,580.3 L1004.2,586.5 L1004.3,592.8 L1004.3,599.0 L1004.3,605.3 L1004.3,611.5 L1004.3,617.8 L1004.4,624.0 L1004.4,630.3 L1004.4,636.5 L1004.4,642.8 L1004.3,649.0 L1004.3,655.3 L1004.3,661.5 L1004.3,667.8 L1004.3,674.1 L1004.3,680.3 L1004.3,686.6 L1004.2,692.8 L1004.2,699.1 L1004.2,705.4 L1004.2,711.6 L1004.2,717.9 L1004.1,724.1 L1004.1,730.4 L1004.1,736.6 L1004.1,742.9 L1004.0,749.1 L1004.0,755.4 L1003.9,761.6 L1003.9,767.9 L1003.8,774.1 L1003.7,780.4 L1003.7,786.6 L1003.6,792.9 L1003.5,799.1 L1003.4,805.3 L1003.3,811.6 L1003.2,817.8 L1003.0,824.1 L1002.9,830.3 L1002.7,836.5 L1002.5,842.8 L1002.4,849.0 L1002.2,855.2 L1001.9,861.4 L1001.7,867.7 L1001.5,873.9 L1001.2,880.1 L1000.9,886.3 L1000.6,892.5 L1000.3,898.7 L999.9,904.9 L999.6,911.1 L999.2,917.3 L998.8,923.5 L998.4,929.7 L997.9,935.9 L997.4,942.1 L996.9,948.3 L996.4,954.5 L995.9,960.7 L995.3,966.9 L994.7,973.1 L994.1,979.2 L993.4,985.4 L992.7,991.6 L992.0,997.7 L991.3,1003.9 L990.5,1010.1 L989.7,1016.2 L988.9,1022.4 L988.0,1028.5 L987.1,1034.7 L986.2,1040.8 L985.2,1047.0 L984.2,1053.1 L983.2,1059.2 L982.1,1065.4 L981.0,1071.5 L979.8,1077.6 L978.7,1083.7 L977.4,1089.8 L976.1,1095.9 L974.8,1101.9 L973.4,1108.0 L972.0,1114.0 L970.5,1120.1 L969.0,1126.0 L967.4,1132.0 L965.8,1138.0 L964.0,1143.9 L962.3,1149.8 L960.4,1155.7 L958.5,1161.5 L956.5,1167.4 L954.5,1173.2 L952.4,1178.9 L950.2,1184.6 L947.9,1190.3 L945.6,1196.0 L943.1,1201.6 L940.6,1207.2 L938.0,1212.7 L935.3,1218.3 L932.5,1223.7 L929.7,1229.1 L926.7,1234.5 L923.7,1239.8 L920.5,1245.0 L917.3,1250.2 L914.0,1255.3 L910.5,1260.3 L907.0,1265.2 L903.3,1270.0 L899.6,1274.7 L895.7,1279.3 L891.7,1283.7 L887.6,1288.1 L883.4,1292.3 L879.1,1296.4 L874.7,1300.4 L870.1,1304.2 L865.5,1307.8 L860.6,1311.4 L855.7,1314.7 L850.7,1317.9 L845.5,1321.0 L840.2,1323.9 L834.8,1326.7 L829.4,1329.3 L823.8,1331.7 L818.2,1334.0 L812.5,1336.2 L806.7,1338.1 L800.9,1339.9 L795.0,1341.6 L789.0,1343.1 L783.1,1344.4 L777.0,1345.5 L771.0,1346.5 L764.9,1347.3 L758.9,1347.9 L752.8,1348.3 L746.7,1348.6 L740.6,1348.7 L734.5,1348.6 L728.5,1348.4 L722.4,1348.0 L716.4,1347.4 L710.4,1346.6 L704.5,1345.7 L698.5,1344.6 L692.6,1343.3 L686.8,1341.9 L681.0,1340.3 L675.3,1338.6 L669.6,1336.7 L664.0,1334.6 L658.4,1332.4 L652.9,1330.0 L647.5,1327.5 L642.2,1324.8 L637.0,1322.0 L631.9,1319.0 L626.8,1315.9 L621.9,1312.6 L617.0,1309.2 L612.3,1305.6 L607.7,1301.9 L603.2,1298.1 L598.9,1294.1 L594.6,1290.0 L590.5,1285.8 L586.5,1281.4 L582.6,1276.9 L578.8,1272.3 L575.2,1267.5 L571.6,1262.6 L568.2,1257.7 L564.8,1252.6 L561.6,1247.4 L558.4,1242.2 L555.4,1236.8 L552.5,1231.4 L549.6,1225.9 L546.9,1220.4 L544.2,1214.8 L541.6,1209.1 L539.1,1203.4 L536.7,1197.6 L534.4,1191.8 L532.2,1186.0 L530.0,1180.1 L527.9,1174.3 L525.9,1168.4 L523.9,1162.5 L522.1,1156.6 L520.3,1150.6 L518.5,1144.7 L516.9,1138.8 L515.3,1132.8 L513.7,1126.8 L512.3,1120.9 L510.9,1114.9 L509.5,1108.9 L508.2,1102.8 L507.0,1096.8 L505.8,1090.8 L504.7,1084.7 L503.7,1078.7 L502.7,1072.6 L501.7,1066.6 L500.8,1060.5 L500.0,1054.4 L499.1,1048.3 L498.4,1042.2 L497.7,1036.1 L497.0,1029.9 L496.4,1023.8 L495.8,1017.7 L495.2,1011.5 L494.7,1005.3 L494.2,999.2 L493.8,993.0 L493.4,986.8 L493.0,980.7 L492.7,974.5 L492.3,968.3 L492.1,962.1 L491.8,955.9 L491.6,949.7 L491.4,943.5 L491.2,937.3 L491.0,931.0 L490.9,924.8 L490.7,918.6 L490.6,912.3 L490.5,906.1 L490.4,899.9 L490.4,893.6 L490.3,887.4 L490.3,881.1 L490.3,874.9 L490.2,868.6 L490.2,862.4 L490.2,856.1 L490.2,849.9 L490.2,843.6 L490.2,837.4 L490.2,831.2 L490.2,824.9 L490.2,818.7 L490.2,812.4 L490.2,806.2 L490.2,799.9 L490.3,793.7 L490.3,787.4 L490.3,781.2 L490.4,774.9 L490.4,768.7 L490.5,762.4 L490.5,756.2 L490.6,750.0 L490.6,743.7 L490.7,737.5 L490.8,731.2 L490.8,725.0 L490.9,718.7 L491.0,712.5 L491.1,706.3 L491.2,700.0 L491.3,693.8 L491.4,687.5 L491.5,681.3 L491.6,675.1 L491.7,668.8 L491.8,662.6 L491.9,656.3 L492.0,650.1 L492.2,643.8 L492.3,637.6 L492.4,631.4 L492.6,625.1 L492.7,618.9 L492.9,612.6 L493.0,606.4 L493.2,600.1 L493.3,593.9 L493.5,587.7 L493.7,581.4 L493.9,575.2 L494.0,568.9 L494.2,562.7 L494.4,556.4 L494.6,550.2 L494.8,544.0 L495.0,537.7 L495.2,531.5 L495.4,525.2 L495.6,519.0 L495.8,512.7 L496.1,506.5 L496.3,500.2 L496.5,494.0 L496.8,487.7 L497.0,481.5 L497.2,475.2 L497.5,469.0 L497.7,462.7 L498.0,456.5 L498.3,450.2 L498.5,444.0 L498.8,437.7 L499.1,431.4 L499.3,425.2 L499.6,418.9 L499.9,412.7 L500.2,406.4 L500.5,400.2 L500.9,394.0 L501.2,387.7 L501.6,381.5 L502.0,375.3 L502.4,369.0 L502.8,362.8 L503.3,356.6 L503.8,350.4 L504.3,344.2 L504.9,338.0 L505.5,331.9 L506.1,325.7 L506.8,319.6 L507.5,313.4 L508.2,307.3 L509.1,301.1 L509.9,295.0 L510.8,288.9 L511.8,282.8 L512.8,276.8 L513.9,270.7 L515.0,264.6 L516.2,258.6 L517.5,252.6 L518.8,246.6 L520.2,240.6 L521.7,234.6 L523.2,228.6 L524.8,222.7 L526.5,216.7 L528.3,210.8 L530.2,205.0 L532.2,199.3 L534.3,193.6 L536.6,188.1 L539.1,182.7 L541.7,177.4 L544.6,172.4 L547.7,167.4 L551.1,162.7 L554.8,158.1 L558.6,153.7 L562.7,149.4 L566.9,145.4 L571.3,141.6 L575.9,138.0 L580.6,134.7 L585.4,131.5 L590.4,128.6 L595.4,125.9 L600.6,123.3 L605.9,120.9 L611.3,118.7 L616.9,116.7 L622.5,114.8 L628.2,113.1 L634.0,111.5 L639.8,110.0 L645.8,108.6 L651.8,107.4 L657.8,106.3 L663.9,105.3 L670.1,104.4 L676.3,103.5 L682.5,102.8 L688.8,102.1 L695.0,101.5Z" fill="url(#navy)"/>
<path d="M701.4,102.9 L707.7,102.4 L713.9,101.9 L720.1,101.5 L726.3,101.2 L732.4,100.9 L738.6,100.6 L744.7,100.5 L750.8,100.4 L756.9,100.3 L763.0,100.4 L769.0,100.5 L775.1,100.6 L781.1,100.9 L787.1,101.2 L793.1,101.6 L799.1,102.1 L805.1,102.7 L811.1,103.3 L817.0,104.1 L823.0,104.9 L829.0,105.8 L834.9,106.8 L840.9,107.9 L846.8,109.1 L852.7,110.4 L858.7,111.8 L864.6,113.3 L870.4,115.0 L876.2,116.7 L881.9,118.6 L887.5,120.6 L893.0,122.7 L898.3,125.1 L903.6,127.6 L908.6,130.3 L913.5,133.2 L918.3,136.3 L923.0,139.6 L927.5,143.2 L931.8,147.0 L936.0,150.9 L940.1,155.0 L943.9,159.3 L947.6,163.8 L951.1,168.4 L954.4,173.2 L957.6,178.1 L960.5,183.2 L963.2,188.3 L965.7,193.6 L968.0,199.0 L970.1,204.4 L971.9,210.0 L973.6,215.6 L975.1,221.4 L976.4,227.3 L977.6,233.2 L978.7,239.2 L979.7,245.3 L980.7,251.4 L981.6,257.6 L982.4,263.8 L983.3,270.0 L984.1,276.2 L984.9,282.4 L985.6,288.6 L986.4,294.8 L987.1,301.0 L987.8,307.2 L988.5,313.4 L989.2,319.5 L989.9,325.7 L990.5,331.9 L991.1,338.1 L991.7,344.3 L992.3,350.5 L992.8,356.7 L993.4,362.8 L993.9,369.0 L994.4,375.2 L994.9,381.4 L995.3,387.6 L995.8,393.8 L996.2,400.0 L996.6,406.2 L997.0,412.4 L997.4,418.6 L997.7,424.8 L998.1,431.0 L998.4,437.2 L998.7,443.4 L999.0,449.6 L999.3,455.8 L999.5,462.0 L999.8,468.2 L1000.0,474.4 L1000.2,480.6 L1000.4,486.8 L1000.6,493.1 L1000.8,499.3 L1001.0,505.5 L1001.1,511.7 L1001.3,518.0 L1001.4,524.2 L1001.5,530.4 L1001.6,536.7 L1001.7,542.9 L1001.8,549.1 L1001.9,555.4 L1002.0,561.6 L1002.1,567.8 L1002.1,574.1 L1002.2,580.3 L1002.2,586.6 L1002.3,592.8 L1002.3,599.0 L1002.3,605.3 L1002.3,611.5 L1002.3,617.8 L1002.4,624.0 L1002.4,630.3 L1002.4,636.5 L1002.4,642.8 L1002.3,649.0 L1002.3,655.3 L1002.3,661.5 L1002.3,667.8 L1002.3,674.1 L1002.3,680.3 L1002.3,686.6 L1002.2,692.8 L1002.2,699.1 L1002.2,705.3 L1002.2,711.6 L1002.2,717.9 L1002.1,724.1 L1002.1,730.4 L1002.1,736.6 L1002.1,742.9 L1002.0,749.1 L1002.0,755.4 L1001.9,761.6 L1001.9,767.9 L1001.8,774.1 L1001.7,780.4 L1001.7,786.6 L1001.6,792.8 L1001.5,799.1 L1001.4,805.3 L1001.3,811.5 L1001.2,817.8 L1001.0,824.0 L1000.9,830.2 L1000.7,836.5 L1000.5,842.7 L1000.4,848.9 L1000.2,855.1 L999.9,861.4 L999.7,867.6 L999.5,873.8 L999.2,880.0 L998.9,886.2 L998.6,892.4 L998.3,898.6 L997.9,904.8 L997.6,911.0 L997.2,917.2 L996.8,923.4 L996.4,929.6 L995.9,935.8 L995.4,942.0 L994.9,948.2 L994.4,954.3 L993.9,960.5 L993.3,966.7 L992.7,972.9 L992.1,979.0 L991.4,985.2 L990.7,991.4 L990.0,997.5 L989.3,1003.7 L988.5,1009.8 L987.7,1016.0 L986.9,1022.1 L986.0,1028.3 L985.1,1034.4 L984.2,1040.5 L983.2,1046.7 L982.2,1052.8 L981.2,1058.9 L980.1,1065.0 L979.0,1071.1 L977.9,1077.2 L976.7,1083.3 L975.5,1089.4 L974.2,1095.5 L972.9,1101.5 L971.5,1107.5 L970.1,1113.6 L968.6,1119.6 L967.1,1125.5 L965.5,1131.5 L963.8,1137.4 L962.1,1143.3 L960.4,1149.2 L958.5,1155.1 L956.6,1160.9 L954.7,1166.7 L952.6,1172.5 L950.5,1178.2 L948.3,1183.9 L946.1,1189.6 L943.7,1195.2 L941.3,1200.8 L938.8,1206.4 L936.2,1211.9 L933.5,1217.4 L930.8,1222.8 L927.9,1228.2 L925.0,1233.5 L922.0,1238.8 L918.8,1244.0 L915.6,1249.1 L912.3,1254.1 L908.9,1259.1 L905.4,1264.0 L901.7,1268.7 L898.0,1273.4 L894.2,1278.0 L890.3,1282.4 L886.2,1286.7 L882.1,1290.9 L877.8,1294.9 L873.4,1298.9 L868.9,1302.6 L864.2,1306.2 L859.5,1309.7 L854.6,1313.1 L849.6,1316.2 L844.5,1319.3 L839.3,1322.2 L834.0,1324.9 L828.5,1327.5 L823.0,1329.9 L817.5,1332.2 L811.8,1334.3 L806.1,1336.2 L800.3,1338.0 L794.5,1339.6 L788.6,1341.1 L782.7,1342.4 L776.7,1343.5 L770.7,1344.5 L764.7,1345.3 L758.7,1345.9 L752.7,1346.3 L746.6,1346.6 L740.6,1346.7 L734.6,1346.6 L728.6,1346.4 L722.6,1346.0 L716.6,1345.4 L710.7,1344.7 L704.8,1343.7 L698.9,1342.6 L693.1,1341.4 L687.3,1340.0 L681.6,1338.4 L675.9,1336.7 L670.2,1334.8 L664.7,1332.7 L659.2,1330.5 L653.8,1328.2 L648.4,1325.7 L643.1,1323.0 L638.0,1320.2 L632.9,1317.3 L627.9,1314.2 L623.0,1311.0 L618.2,1307.6 L613.6,1304.1 L609.0,1300.4 L604.6,1296.6 L600.2,1292.7 L596.0,1288.6 L592.0,1284.4 L588.0,1280.1 L584.1,1275.6 L580.4,1271.0 L576.8,1266.3 L573.2,1261.5 L569.8,1256.5 L566.5,1251.5 L563.3,1246.4 L560.2,1241.2 L557.2,1235.9 L554.2,1230.5 L551.4,1225.0 L548.7,1219.5 L546.0,1213.9 L543.4,1208.3 L541.0,1202.6 L538.6,1196.9 L536.3,1191.1 L534.0,1185.3 L531.9,1179.5 L529.8,1173.6 L527.8,1167.7 L525.8,1161.9 L524.0,1156.0 L522.2,1150.1 L520.5,1144.2 L518.8,1138.2 L517.2,1132.3 L515.7,1126.4 L514.2,1120.4 L512.8,1114.4 L511.5,1108.4 L510.2,1102.4 L509.0,1096.4 L507.8,1090.4 L506.7,1084.4 L505.6,1078.4 L504.6,1072.3 L503.7,1066.2 L502.8,1060.2 L501.9,1054.1 L501.1,1048.0 L500.4,1041.9 L499.7,1035.8 L499.0,1029.7 L498.4,1023.6 L497.8,1017.5 L497.2,1011.3 L496.7,1005.2 L496.2,999.0 L495.8,992.9 L495.4,986.7 L495.0,980.5 L494.7,974.4 L494.3,968.2 L494.1,962.0 L493.8,955.8 L493.6,949.6 L493.4,943.4 L493.2,937.2 L493.0,931.0 L492.9,924.8 L492.7,918.5 L492.6,912.3 L492.5,906.1 L492.4,899.9 L492.4,893.6 L492.3,887.4 L492.3,881.1 L492.3,874.9 L492.2,868.6 L492.2,862.4 L492.2,856.1 L492.2,849.9 L492.2,843.6 L492.2,837.4 L492.2,831.2 L492.2,824.9 L492.2,818.7 L492.2,812.4 L492.2,806.2 L492.2,799.9 L492.3,793.7 L492.3,787.4 L492.3,781.2 L492.4,774.9 L492.4,768.7 L492.5,762.5 L492.5,756.2 L492.6,750.0 L492.6,743.7 L492.7,737.5 L492.8,731.3 L492.8,725.0 L492.9,718.8 L493.0,712.5 L493.1,706.3 L493.2,700.0 L493.3,693.8 L493.4,687.6 L493.5,681.3 L493.6,675.1 L493.7,668.8 L493.8,662.6 L493.9,656.4 L494.0,650.1 L494.2,643.9 L494.3,637.6 L494.4,631.4 L494.6,625.2 L494.7,618.9 L494.9,612.7 L495.0,606.4 L495.2,600.2 L495.3,594.0 L495.5,587.7 L495.7,581.5 L495.9,575.2 L496.0,569.0 L496.2,562.7 L496.4,556.5 L496.6,550.3 L496.8,544.0 L497.0,537.8 L497.2,531.5 L497.4,525.3 L497.6,519.0 L497.8,512.8 L498.1,506.5 L498.3,500.3 L498.5,494.0 L498.8,487.8 L499.0,481.5 L499.2,475.3 L499.5,469.0 L499.7,462.8 L500.0,456.5 L500.3,450.3 L500.5,444.0 L500.8,437.8 L501.1,431.5 L501.3,425.3 L501.6,419.0 L501.9,412.8 L502.2,406.5 L502.5,400.3 L502.9,394.1 L503.2,387.8 L503.6,381.6 L504.0,375.4 L504.4,369.2 L504.8,363.0 L505.3,356.8 L505.8,350.6 L506.3,344.4 L506.9,338.2 L507.4,332.1 L508.1,325.9 L508.8,319.8 L509.5,313.6 L510.2,307.5 L511.0,301.4 L511.9,295.3 L512.8,289.2 L513.8,283.2 L514.8,277.1 L515.9,271.0 L517.0,265.0 L518.2,259.0 L519.4,253.0 L520.8,247.0 L522.2,241.0 L523.6,235.1 L525.2,229.1 L526.8,223.2 L528.4,217.3 L530.2,211.4 L532.1,205.7 L534.0,200.0 L536.2,194.4 L538.4,188.9 L540.9,183.6 L543.5,178.4 L546.3,173.4 L549.4,168.5 L552.8,163.9 L556.3,159.3 L560.1,155.0 L564.1,150.8 L568.3,146.9 L572.6,143.1 L577.1,139.6 L581.7,136.3 L586.5,133.2 L591.4,130.3 L596.4,127.6 L601.5,125.1 L606.7,122.8 L612.1,120.6 L617.5,118.6 L623.1,116.7 L628.7,115.0 L634.5,113.4 L640.3,111.9 L646.2,110.6 L652.2,109.4 L658.2,108.3 L664.3,107.3 L670.4,106.3 L676.5,105.5 L682.7,104.8 L689.0,104.1 L695.2,103.5Z" fill="url(#bodyfill)"/>
<filter id="blur6" x="-30%" y="-50%" width="160%" height="200%"><feGaussianBlur stdDeviation="7"/></filter>
<rect x="612" y="146" width="280" height="92" rx="46" fill="none" stroke="#e8e4ec" stroke-width="8" opacity="0.3" filter="url(#blur6)"/>
<rect x="620" y="150" width="266" height="84" rx="42" fill="#f8f7f4" opacity="0.7" filter="url(#blur6)"/>
</svg>
<div id="ring" class="ring"></div>
<div id="ringshade" class="ring"></div>
<div id="ringshade2" class="ring"></div>
<svg width="1445" height="1445" viewBox="0 0 1445 1445">
<defs>
<radialGradient id="btn2" cx="0.6" cy="0.55" r="0.65">
<stop offset="0" stop-color="#f8ee14"/><stop offset="0.75" stop-color="#f2e410"/><stop offset="1" stop-color="#ead40c"/>
</radialGradient>
</defs>
<filter id="halo" x="-50%" y="-50%" width="200%" height="200%"><feGaussianBlur stdDeviation="3"/></filter>
<g fill="#ffffff" opacity="0.9" filter="url(#halo)">
<circle cx="746.5" cy="438.5" r="44"/>
<circle cx="745.4" cy="554" r="44"/>
<circle cx="597.3" cy="757" r="55"/>
<circle cx="745.2" cy="796" r="55"/>
<circle cx="893.9" cy="760" r="54.5"/>
<circle cx="632.3" cy="928" r="68.5"/>
<circle cx="854.5" cy="933" r="68"/>
</g>
<g fill="url(#btn2)">
<circle cx="746.5" cy="438.5" r="40"/>
<circle cx="745.4" cy="554" r="40"/>
<circle cx="597.3" cy="757" r="51"/>
<circle cx="745.2" cy="796" r="51"/>
<circle cx="893.9" cy="760" r="50.5"/>
<circle cx="632.3" cy="928" r="64.5"/>
<circle cx="854.5" cy="933" r="64"/>
</g>
<path d="M720.50,446.30 A27,27 0 0 1 760.18,422.46" stroke="#111" stroke-width="5" fill="none"/><path d="M770.64,432.39 A27,27 0 0 1 774.50,446.30" stroke="#111" stroke-width="5" fill="none"/><path d="M744.05,444.79 L765.95,426.43 L767.06,427.58 L747.95,448.81 Z" fill="#111"/><circle cx="746.0" cy="446.8" r="2.8" fill="#111"/>
<path d="M735.67,544.08 A22,22 0 0 1 768.00,563.50" stroke="#111" stroke-width="4.6" fill="none"/><path d="M724.00,563.50 A22,22 0 0 1 726.95,552.50" stroke="#111" stroke-width="4.6" fill="none"/><path d="M744.73,565.27 L729.32,547.45 L730.45,546.32 L748.27,561.73 Z" fill="#111"/><circle cx="746.5" cy="563.5" r="2.5" fill="#111"/>
<circle cx="599.7" cy="755.3" r="8.1" fill="#111"/><g stroke="#111" stroke-width="3.6"><line x1="611.20" y1="755.30" x2="617.20" y2="755.30"/><line x1="607.83" y1="763.43" x2="612.07" y2="767.67"/><line x1="599.70" y1="766.80" x2="599.70" y2="772.80"/><line x1="591.57" y1="763.43" x2="587.33" y2="767.67"/><line x1="588.20" y1="755.30" x2="582.20" y2="755.30"/><line x1="591.57" y1="747.17" x2="587.33" y2="742.93"/><line x1="599.70" y1="743.80" x2="599.70" y2="737.80"/><line x1="607.83" y1="747.17" x2="612.07" y2="742.93"/></g>
<circle cx="892.5" cy="761.6" r="12.6" fill="#111"/><g stroke="#111" stroke-width="4.5"><line x1="910.50" y1="761.60" x2="920.00" y2="761.60"/><line x1="905.23" y1="774.33" x2="911.95" y2="781.05"/><line x1="892.50" y1="779.60" x2="892.50" y2="789.10"/><line x1="879.77" y1="774.33" x2="873.05" y2="781.05"/><line x1="874.50" y1="761.60" x2="865.00" y2="761.60"/><line x1="879.77" y1="748.87" x2="873.05" y2="742.15"/><line x1="892.50" y1="743.60" x2="892.50" y2="734.10"/><line x1="905.23" y1="748.87" x2="911.95" y2="742.15"/></g>
<g fill="#111">
<path d="M743.9,780.5 C752.5,780.5 759.3,787.3 759.3,795.6 C759.3,801.5 756.2,805.5 753.3,808.6 L751.2,811.5 L751.2,817.5 L744.2,824.2 L737.2,817.5 L737.2,811.5 L735.0,808.6 C732.0,805.5 728.6,801.5 728.6,795.6 C728.6,787.3 735.3,780.5 743.9,780.5 Z"/>
</g>
<g stroke="#111" stroke-width="3.6" stroke-linecap="butt">
<line x1="710.6" y1="802" x2="724.1" y2="802"/>
<line x1="764.6" y1="802" x2="778.1" y2="802"/>
<line x1="713.8" y1="784.2" x2="725.5" y2="790.2"/>
<line x1="762.0" y1="790.2" x2="773.8" y2="784"/>
<line x1="724.4" y1="769.7" x2="731.5" y2="781"/>
<line x1="756.8" y1="781" x2="764" y2="770.3"/>
<line x1="744.3" y1="765.3" x2="744.3" y2="777.7"/>
</g>
<g stroke="#111" stroke-width="4.3" fill="none"><circle cx="632.6" cy="915.6" r="16.9"/><circle cx="623.4" cy="933.6" r="16.9"/><circle cx="641.2" cy="933.6" r="16.9"/></g>
<g stroke="#111" stroke-width="4.5" fill="none"><circle cx="855.4" cy="914.2" r="22.1"/><circle cx="843" cy="938.8" r="22.1"/><circle cx="867.4" cy="938.8" r="22.1"/></g>
<path d="M682.66,185.61 A21.8,21.8 0 1 1 667.74,185.61" stroke="#111" stroke-width="3.7" fill="none"/><line x1="676" y1="174" x2="676" y2="200" stroke="#111" stroke-width="3.8" stroke-linecap="round"/>
<path d="M797.4,189.9 L797.4,228.1 L834.8,209 Z" fill="#1a1a1a"/><rect x="837.3" y="194.5" width="3.7" height="30" fill="#111"/><rect x="845.2" y="194.5" width="4.2" height="30" fill="#111"/>
<g fill="none" stroke="#dc8a3c" stroke-width="6.2" stroke-linecap="round">
<path d="M708.5,1256 Q739,1238 773,1260"/>
<path d="M717,1264 Q739,1250 763.5,1267"/>
<path d="M725.5,1271.5 Q739,1263 753,1274"/>
</g>
<g fill="none" stroke="#f8bc7c" stroke-width="3.2" stroke-linecap="round">
<path d="M708.5,1256 Q739,1238 773,1260"/>
<path d="M717,1264 Q739,1250 763.5,1267"/>
<path d="M725.5,1271.5 Q739,1263 753,1274"/>
</g>
<g fill="none" stroke="#111" stroke-width="2.9" stroke-linecap="round" stroke-linejoin="round">
<path d="M737.5,1285 L738.5,1277 Q740,1274.5 741.5,1277 L741.5,1287"/>
<path d="M741.5,1283 L745.5,1283.5 L745.5,1287"/>
<path d="M745.5,1283.5 L749.5,1284.5 L750,1287"/>
<path d="M749.5,1284.5 L754.5,1285.5 Q756,1290 756,1297.5"/>
<path d="M737.5,1285 Q735,1282 733.5,1287 Q732.5,1292 737,1295 L741,1298"/>
</g>
<g stroke="#000" stroke-width="6.5" fill="none" stroke-linecap="butt">
<line x1="310" y1="201.5" x2="636" y2="201.5"/>
<line x1="878" y1="205" x2="1203" y2="205"/>
<line x1="378.5" y1="414.5" x2="704" y2="414.5"/>
<line x1="922" y1="427" x2="1247" y2="427"/>
<line x1="798" y1="579.4" x2="1086.5" y2="579.4"/>
<line x1="148.5" y1="570.4" x2="474" y2="570.4"/>
<line x1="471.5" y1="571.6" x2="722" y2="754.6" stroke-width="5"/>
<line x1="210" y1="755.5" x2="535" y2="755.5"/>
<line x1="940" y1="762.5" x2="1265.5" y2="762.5"/>
<line x1="242" y1="936.5" x2="567.5" y2="936.5"/>
<line x1="911" y1="939.5" x2="1236" y2="939.5"/>
</g>
<g fill="#000" stroke="#fff" stroke-width="0.15" font-family="Liberation Sans" font-size="38.5">
<text x="320.2" y="171.2" textLength="127.6" lengthAdjust="spacingAndGlyphs">On/off</text>
<text x="1073.1" y="173.7" textLength="284.5" lengthAdjust="spacingAndGlyphs">Play/pause/set</text>
<text x="192.0" y="285.5" stroke="none" font-size="23.5" textLength="262.2" lengthAdjust="spacingAndGlyphs">Dynamic mode Speed+</text>
<text x="177.0" y="336.9" textLength="312.4" lengthAdjust="spacingAndGlyphs">White light Mode</text>
<text x="177.6" y="383.7" textLength="297.8" lengthAdjust="spacingAndGlyphs">color adjustment</text>
<text x="1089.5" y="353.0" textLength="198.3" lengthAdjust="spacingAndGlyphs">RGB&#160; Mode</text>
<text x="1039.6" y="399.5" textLength="298.2" lengthAdjust="spacingAndGlyphs">color adjustment</text>
<text x="59.9" y="500.4" textLength="416.2" lengthAdjust="spacingAndGlyphs">RGB Mode/White Light</text>
<text x="154.5" y="546.1" textLength="228.2" lengthAdjust="spacingAndGlyphs">Mode Switch</text>
<text x="1122.1" y="520.5" stroke="none" font-size="23.5" textLength="255.1" lengthAdjust="spacingAndGlyphs">Dynamic mode Speed-</text>
<text x="1102.9" y="566.2" textLength="310.4" lengthAdjust="spacingAndGlyphs">White light Mode</text>
<text x="1101.2" y="611.8" textLength="297.9" lengthAdjust="spacingAndGlyphs">color adjustment</text>
<text x="164.9" y="732.3" textLength="209.2" lengthAdjust="spacingAndGlyphs">Brightness-</text>
<text x="1082.7" y="732.3" textLength="219.1" lengthAdjust="spacingAndGlyphs">Brightness+</text>
<text x="223.1" y="916.5" textLength="120.7" lengthAdjust="spacingAndGlyphs">Mode-</text>
<text x="1128.6" y="916.2" textLength="131.1" lengthAdjust="spacingAndGlyphs">Mode+</text>
<text x="611.0" y="1115.5" stroke="none" font-weight="bold" font-size="43" textLength="263.4" lengthAdjust="spacingAndGlyphs" transform="rotate(0.7 614 1115)">RF Controller</text>
</g>
</svg>
</body></html>
